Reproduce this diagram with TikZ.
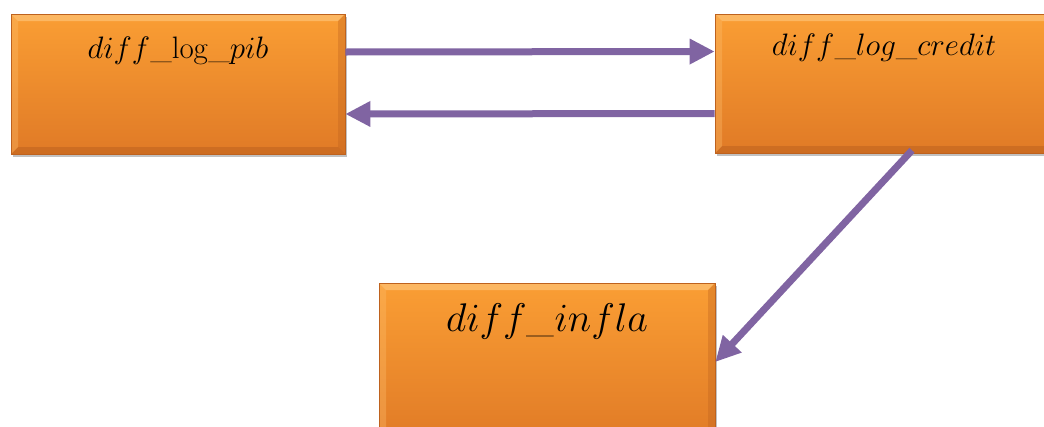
\documentclass[tikz,border=0pt]{standalone}
\usepackage{fix-cm}
\usetikzlibrary{arrows.meta,shadows,calc}
\definecolor{boxtop}{RGB}{250,158,52}
\definecolor{boxbot}{RGB}{224,122,38}
\definecolor{edgelight}{RGB}{253,190,110}
\definecolor{edgedark}{RGB}{190,98,30}
\definecolor{linkpurple}{RGB}{128,100,162}
\tikzset{
  varbox/.style={
    rectangle, inner sep=0pt, draw=edgedark, line width=0.6pt,
    top color=boxtop, bottom color=boxbot,
    drop shadow={shadow xshift=1.5pt, shadow yshift=-3pt, opacity=0.35, fill=black!70},
    path picture={
      % bevelled rim: light on top and left, dark on bottom and right
      \fill[edgelight,opacity=0.8]
        (path picture bounding box.north west) -- (path picture bounding box.north east)
        -- ++(-7pt,-7pt) -- ($(path picture bounding box.north west)+(7pt,-7pt)$) -- cycle;
      \fill[edgedark,opacity=0.55]
        (path picture bounding box.south west) -- (path picture bounding box.south east)
        -- ++(-7pt,7pt) -- ($(path picture bounding box.south west)+(7pt,7pt)$) -- cycle;
      \fill[edgedark,opacity=0.35]
        (path picture bounding box.north east) -- (path picture bounding box.south east)
        -- ++(-7pt,7pt) -- ($(path picture bounding box.north east)+(-7pt,-7pt)$) -- cycle;
      \fill[edgelight,opacity=0.35]
        (path picture bounding box.north west) -- (path picture bounding box.south west)
        -- ++(7pt,7pt) -- ($(path picture bounding box.north west)+(7pt,-7pt)$) -- cycle;
    }
  },
  varname/.style={inner sep=0pt, font=\fontsize{31}{34}\selectfont},
  bigname/.style={inner sep=0pt, font=\fontsize{40}{44}\selectfont},
  link/.style={draw=linkpurple, line width=7pt,
    -{Triangle[length=25pt,width=24pt]}}
}
\begin{document}
\begin{tikzpicture}[x=1pt,y=-1pt]
  \useasboundingbox (0,0) rectangle (1044,426);
  \clip (0,0) rectangle (1044,426);

  % the three variables
  \node[varbox, minimum width=334pt, minimum height=140pt] (pib) at (178,84) {};
  \node[varbox, minimum width=338pt, minimum height=139pt] (credit) at (884,83.5) {};
  \node[varbox, minimum width=336pt, minimum height=160pt] (infla) at (547,363) {};

  \node[varname] (pibtext) at ([yshift=-37pt]pib.north) {$diff\_\mathrm{log}\_pib$};
  \node[varname] (credittext) at ([yshift=-34pt]credit.north) {$diff\_log\_credit$};
  \node[bigname] (inflatext) at ([yshift=-39pt]infla.north) {$diff\_infla$};

  % causal links
  \draw[link] ([yshift=32pt]pib.east) -- ([yshift=32pt]credit.west);
  \draw[link] ([yshift=-30pt]credit.west) -- ([yshift=-30pt]pib.east);
  \draw[link] ([xshift=28pt,yshift=3pt]credit.south) -- ([yshift=1pt]infla.east);
\end{tikzpicture}
\end{document}
